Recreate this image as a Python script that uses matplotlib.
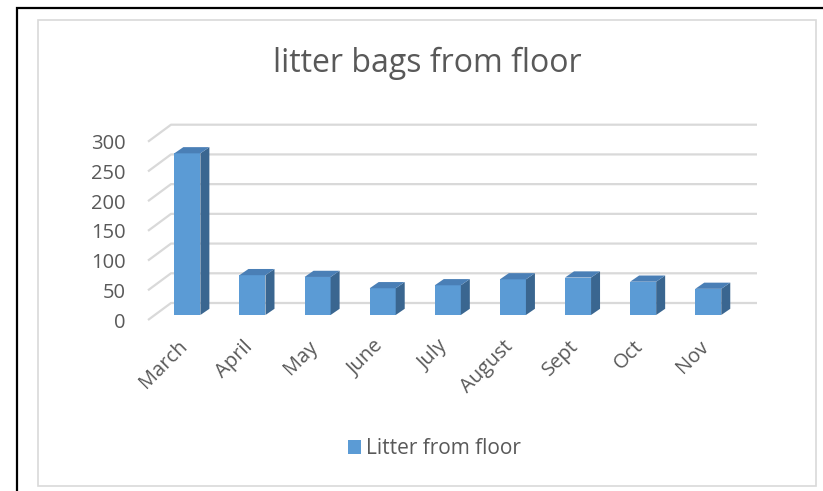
import matplotlib
matplotlib.use("Agg")
import matplotlib.pyplot as plt
from matplotlib.patches import Rectangle, Polygon
from matplotlib.transforms import ScaledTranslation
import numpy as np

months = ["March", "April", "May", "June", "July", "August", "Sept", "Oct", "Nov"]
litter = [272, 67, 64, 45, 50, 60, 63, 56, 44]
yticks = [0, 50, 100, 150, 200, 250, 300]
title = "litter bags from floor"
series_name = "Litter from floor"

FONT = "Open Sans"
TXT = "#595959"
GRID = "#d9d9d9"
FRONT = "#5b9bd5"
TOP = "#4a7fb6"
SIDE = "#3a6690"

W, H, DPI = 823, 491, 100
fig = plt.figure(figsize=(W / DPI, H / DPI), dpi=DPI)

def fx(px):
    return px / W

def fy(py):
    return (H - py) / H

# outer black border and inner grey chart frame
fig.patches.append(Rectangle((fx(17), fy(530)), fx(900), fy(8) - fy(530), transform=fig.transFigure,
                             fill=False, ec="black", lw=1.6))
fig.patches.append(Rectangle((fx(37.5), fy(486)), fx(816) - fx(37.5), fy(19.5) - fy(486),
                             transform=fig.transFigure, fill=False, ec=GRID, lw=1.2))

# front plane of the plot area
left_px, right_px, bot_px, top_px = 148, 734, 320, 141.7
ax = fig.add_axes([fx(left_px), fy(bot_px), fx(right_px) - fx(left_px), fy(top_px) - fy(bot_px)])
n = len(months)
x = np.arange(n)
ax.set_xlim(-0.5, n - 0.5)
ax.set_ylim(0, 300)
for s in ax.spines.values():
    s.set_visible(False)
ax.patch.set_visible(False)

px_per_x = (right_px - left_px) / n
px_per_y = (bot_px - top_px) / 300.0

def dxu(px):
    return px / px_per_x

def dyu(px):
    return px / px_per_y

# walls: diagonal floor-to-back lines + back wall gridlines
wall_dx, wall_dy = dxu(23), dyu(17)
for v in yticks:
    ax.plot([-0.5, -0.5 + wall_dx, n - 0.5 + wall_dx], [v, v + wall_dy, v + wall_dy],
            color=GRID, lw=1.6, clip_on=False, zorder=1, solid_capstyle="butt")

# bars with 3D look (front plane of bars slightly behind the floor front edge)
off_x, off_y = dxu(6.8), dyu(5)
bw = 0.40
dep_x, dep_y = dxu(9), dyu(6.2)
bars = ax.bar(x + off_x, [v for v in litter], width=bw, bottom=off_y, color=FRONT,
              zorder=3, label=series_name, clip_on=False)
for xi, v in zip(x, litter):
    xl = xi + off_x - bw / 2
    xr = xi + off_x + bw / 2
    y0 = off_y
    y1 = off_y + v
    side = Polygon([(xr, y0), (xr + dep_x, y0 + dep_y), (xr + dep_x, y1 + dep_y), (xr, y1)],
                   closed=True, fc=SIDE, ec="none", zorder=3, clip_on=False)
    top = Polygon([(xl, y1), (xr, y1), (xr + dep_x, y1 + dep_y), (xl + dep_x, y1 + dep_y)],
                  closed=True, fc=TOP, ec="none", zorder=3, clip_on=False)
    ax.add_patch(side)
    ax.add_patch(top)

# y tick labels
ax.set_yticks(yticks)
ax.set_yticklabels([str(t) for t in yticks], fontsize=14.5, color=TXT, family=FONT)
ax.tick_params(axis="y", length=0, pad=16)

# x tick labels rotated
ax.set_xticks(x)
ax.set_xticklabels(months, rotation=45, ha="right", va="center", rotation_mode="anchor",
                   fontsize=14.5, color=TXT, family=FONT)
ax.tick_params(axis="x", length=0, pad=17)
for lbl in ax.get_xticklabels():
    lbl.set_transform(lbl.get_transform() + ScaledTranslation(4 / DPI, 0, fig.dpi_scale_trans))

# title
fig.text(fx(427.5), fy(63), title, ha="center", va="center", fontsize=23, color=TXT, family=FONT)

# legend
leg = fig.legend(handles=[bars], labels=[series_name], loc="center",
                 bbox_to_anchor=(fx(434.5), fy(449)), frameon=False,
                 prop={"family": FONT, "size": 15}, handlelength=0.65, handleheight=0.65,
                 handletextpad=0.25, borderpad=0)
for t in leg.get_texts():
    t.set_color(TXT)

fig.savefig("out.png", dpi=DPI)
